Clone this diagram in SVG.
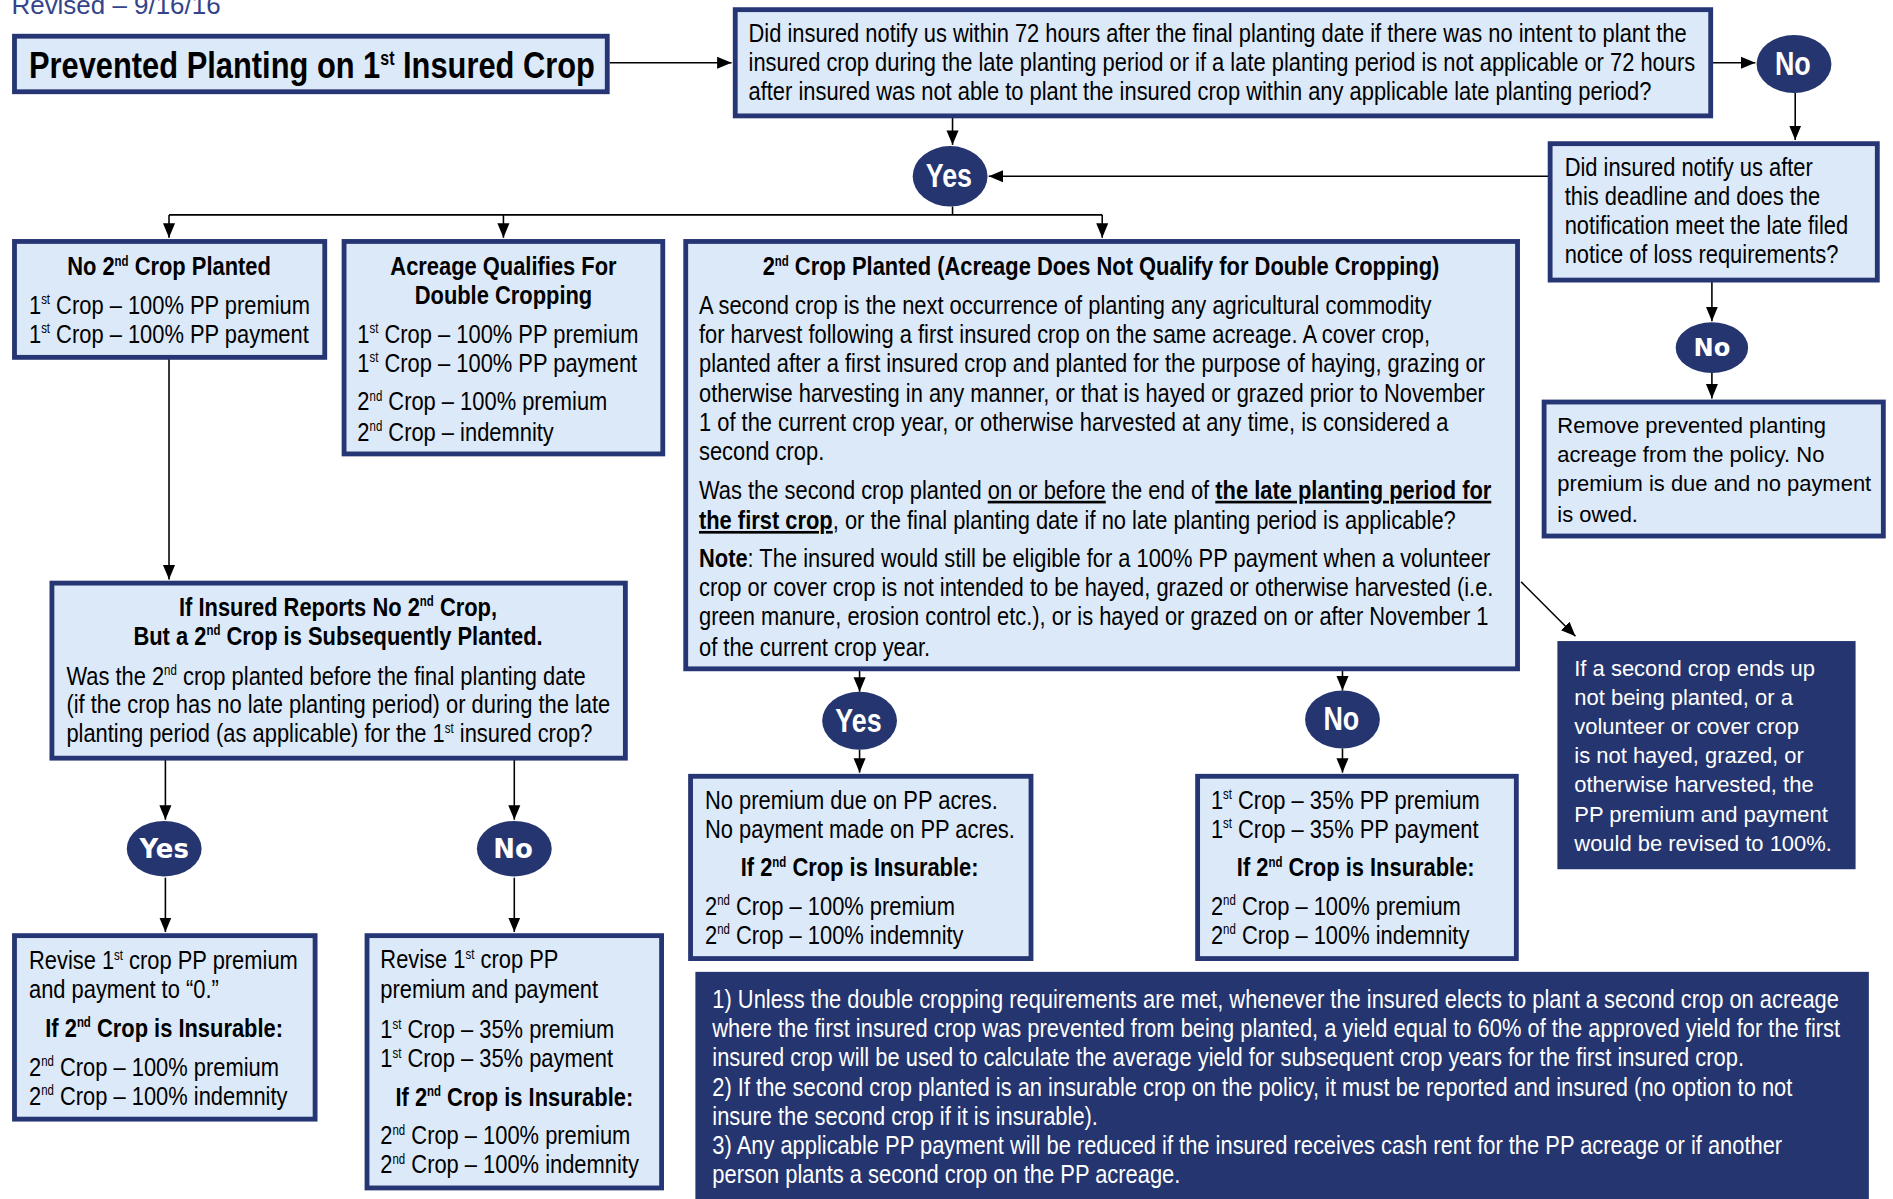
<svg xmlns="http://www.w3.org/2000/svg" width="1893" height="1199" viewBox="0 0 1893 1199">
<style>
.box{fill:#dce9f8;stroke:#263573;stroke-width:4}
.dark{fill:#253570}
.ell{fill:#253570}
.conn{stroke:#000;stroke-width:1.3;fill:none}
.a{marker-end:url(#arr)}
.t{font-family:"Liberation Sans",Arial,sans-serif;font-size:22px;fill:#000}
.b{font-weight:bold}
.c{text-anchor:middle}
.r{font-family:"Liberation Sans",Arial,sans-serif;font-size:18.2px;fill:#000}
.wt{fill:#fff}
.yn{font-family:"Liberation Sans",Arial,sans-serif;font-weight:bold;font-size:27px;fill:#fff;text-anchor:middle}
.yv{font-family:"DejaVu Sans",Verdana,sans-serif;font-weight:bold;font-size:21.5px;fill:#fff;text-anchor:middle}
.u{text-decoration:underline}
.sp{font-size:11.5px}
</style>
<defs>
<marker id="arr" markerUnits="userSpaceOnUse" markerWidth="13" markerHeight="11" refX="12" refY="5.5" orient="auto">
<path d="M0,0.5 L12,5.5 L0,10.5 z" fill="#000"/>
</marker>
</defs>
<g transform="scale(1.20727)">
<text id="revised" x="9.5" y="11.5" class="r" style="font-size:21.5px;fill:#34448a">Revised – 9/16/16</text>

<g id="connectors">
<path class="conn a" d="M505,52 L606,52"/>
<path class="conn a" d="M1418,52 L1454,52"/>
<path class="conn a" d="M1487,77 L1487,116"/>
<path class="conn a" d="M1283,146 L819,146"/>
<path class="conn a" d="M789,97 L789,120"/>
<path class="conn" d="M789,171 L789,178 M140,178 L913,178"/>
<path class="conn a" d="M140,178 L140,197"/>
<path class="conn a" d="M417,178 L417,197"/>
<path class="conn a" d="M913,178 L913,197"/>
<path class="conn a" d="M1418,233 L1418,266"/>
<path class="conn a" d="M1418,309 L1418,330"/>
<path class="conn a" d="M1260,482 L1305,527"/>
<path class="conn a" d="M140,297 L140,480"/>
<path class="conn a" d="M137,629 L137,679"/>
<path class="conn a" d="M137,727 L137,772"/>
<path class="conn a" d="M426,629 L426,679"/>
<path class="conn a" d="M426,727 L426,772"/>
<path class="conn a" d="M712,555 L712,573"/>
<path class="conn a" d="M712,621 L712,640"/>
<path class="conn a" d="M1112,555 L1112,572"/>
<path class="conn a" d="M1112,620 L1112,640"/>
</g>

<g id="title">
<rect class="box" x="12" y="30" width="491" height="46"/>
<g transform="scale(0.8245 1)">
<text class="t b" x="29.1" y="65" style="font-size:31px">Prevented Planting on 1<tspan dy="-11" style="font-size:16px">st</tspan><tspan dy="11"> Insured Crop</tspan></text>
</g>
</g>

<g id="q1">
<rect class="box" x="609" y="8" width="808" height="88"/>
<g transform="scale(0.8245 1)">
<text class="t" x="752" y="35">Did insured notify us within 72 hours after the final planting date if there was no intent to plant the</text>
<text class="t" x="752" y="59">insured crop during the late planting period or if a late planting period is not applicable or 72 hours</text>
<text class="t" x="752" y="83">after insured was not able to plant the insured crop within any applicable late planting period?</text>
</g>
</g>

<g id="no-top">
<ellipse class="ell" cx="1486" cy="53" rx="31" ry="24"/>
<g transform="scale(0.8245 1)"><text class="yn" x="1801.1" y="62">No</text></g>
</g>

<g id="q2">
<rect class="box" x="1284" y="119" width="271" height="113"/>
<g transform="scale(0.8245 1)">
<text class="t" x="1571.9" y="146">Did insured notify us after</text>
<text class="t" x="1571.9" y="170">this deadline and does the</text>
<text class="t" x="1571.9" y="194">notification meet the late filed</text>
<text class="t" x="1571.9" y="218">notice of loss requirements?</text>
</g>
</g>

<g id="yes-top">
<ellipse class="ell" cx="787" cy="146" rx="31" ry="25"/>
<g transform="scale(0.8245 1)"><text class="yn" x="953.3" y="155">Yes</text></g>
</g>

<g id="no-second">
<rect class="box" x="12" y="200" width="257" height="96"/>
<g transform="scale(0.8245 1)">
<text class="t b c" x="169.8" y="228">No 2<tspan dy="-8" class="sp">nd</tspan><tspan dy="8"> Crop Planted</tspan></text>
<text class="t" x="29.1" y="260">1<tspan dy="-8" class="sp">st</tspan><tspan dy="8"> Crop – 100% PP premium</tspan></text>
<text class="t" x="29.1" y="284">1<tspan dy="-8" class="sp">st</tspan><tspan dy="8"> Crop – 100% PP payment</tspan></text>
</g>
</g>

<g id="double">
<rect class="box" x="285" y="200" width="264" height="176"/>
<g transform="scale(0.8245 1)">
<text class="t b c" x="505.8" y="228">Acreage Qualifies For</text>
<text class="t b c" x="505.8" y="252">Double Cropping</text>
<text class="t" x="359" y="284">1<tspan dy="-8" class="sp">st</tspan><tspan dy="8"> Crop – 100% PP premium</tspan></text>
<text class="t" x="359" y="308">1<tspan dy="-8" class="sp">st</tspan><tspan dy="8"> Crop – 100% PP payment</tspan></text>
<text class="t" x="359" y="340">2<tspan dy="-8" class="sp">nd</tspan><tspan dy="8"> Crop – 100% premium</tspan></text>
<text class="t" x="359" y="365">2<tspan dy="-8" class="sp">nd</tspan><tspan dy="8"> Crop – indemnity</tspan></text>
</g>
</g>

<g id="second-planted">
<rect class="box" x="568" y="200" width="689" height="354"/>
<g transform="scale(0.8245 1)">
<text class="t b c" x="1106.1" y="228">2<tspan dy="-8" class="sp">nd</tspan><tspan dy="8"> Crop Planted (Acreage Does Not Qualify for Double Cropping)</tspan></text>
<text class="t" x="702.2" y="260">A second crop is the next occurrence of planting any agricultural commodity</text>
<text class="t" x="702.2" y="284">for harvest following a first insured crop on the same acreage. A cover crop,</text>
<text class="t" x="702.2" y="308">planted after a first insured crop and planted for the purpose of haying, grazing or</text>
<text class="t" x="702.2" y="333">otherwise harvesting in any manner, or that is hayed or grazed prior to November</text>
<text class="t" x="702.2" y="357">1 of the current crop year, or otherwise harvested at any time, is considered a</text>
<text class="t" x="702.2" y="381">second crop.</text>
<text class="t" x="702.2" y="413">Was the second crop planted <tspan class="u">on or before</tspan> the end of <tspan class="b u">the late planting period for </tspan></text>
<text class="t" x="702.2" y="438"><tspan class="b u">the first crop</tspan>, or the final planting date if no late planting period is applicable?</text>
<text class="t" x="702.2" y="470"><tspan class="b">Note</tspan>: The insured would still be eligible for a 100% PP payment when a volunteer</text>
<text class="t" x="702.2" y="494">crop or cover crop is not intended to be hayed, grazed or otherwise harvested (i.e.</text>
<text class="t" x="702.2" y="518">green manure, erosion control etc.), or is hayed or grazed on or after November 1</text>
<text class="t" x="702.2" y="543">of the current crop year.</text>
</g>
</g>

<g id="no-right">
<ellipse class="ell" cx="1418" cy="288" rx="30" ry="21"/>
<text class="yv" x="1418" y="295" style="font-size:20px">No</text>
</g>

<g id="remove">
<rect class="box" x="1279" y="333" width="281" height="111"/>
<text class="r" x="1290" y="359">Remove prevented planting</text>
<text class="r" x="1290" y="383">acreage from the policy. No</text>
<text class="r" x="1290" y="407">premium is due and no payment</text>
<text class="r" x="1290" y="432">is owed.</text>
</g>

<g id="revised-note">
<rect class="dark" x="1290" y="531" width="247" height="189"/>
<text class="r wt" x="1304" y="560">If a second crop ends up</text>
<text class="r wt" x="1304" y="584">not being planted, or a</text>
<text class="r wt" x="1304" y="608">volunteer or cover crop</text>
<text class="r wt" x="1304" y="632">is not hayed, grazed, or</text>
<text class="r wt" x="1304" y="656">otherwise harvested, the</text>
<text class="r wt" x="1304" y="681">PP premium and payment</text>
<text class="r wt" x="1304" y="705">would be revised to 100%.</text>
</g>

<g id="reports-no">
<rect class="box" x="43" y="483" width="475" height="145"/>
<g transform="scale(0.8245 1)">
<text class="t b c" x="339.6" y="510">If Insured Reports No 2<tspan dy="-8" class="sp">nd</tspan><tspan dy="8"> Crop,</tspan></text>
<text class="t b c" x="339.6" y="534">But a 2<tspan dy="-8" class="sp">nd</tspan><tspan dy="8"> Crop is Subsequently Planted.</tspan></text>
<text class="t" x="66.7" y="567">Was the 2<tspan dy="-8" class="sp">nd</tspan><tspan dy="8"> crop planted before the final planting date</tspan></text>
<text class="t" x="66.7" y="591">(if the crop has no late planting period) or during the late</text>
<text class="t" x="66.7" y="615">planting period (as applicable) for the 1<tspan dy="-8" class="sp">st</tspan><tspan dy="8"> insured crop?</tspan></text>
</g>
</g>

<g id="yes-left">
<ellipse class="ell" cx="136" cy="703" rx="31" ry="23"/>
<text class="yv" x="136" y="711">Yes</text>
</g>
<g id="no-left">
<ellipse class="ell" cx="426" cy="703" rx="31" ry="23"/>
<text class="yv" x="425" y="711">No</text>
</g>

<g id="revise-zero">
<rect class="box" x="12" y="775" width="249" height="152"/>
<g transform="scale(0.8245 1)">
<text class="t" x="29.1" y="803">Revise 1<tspan dy="-8" class="sp">st</tspan><tspan dy="8"> crop PP premium</tspan></text>
<text class="t" x="29.1" y="827">and payment to “0.”</text>
<text class="t b c" x="164.9" y="859">If 2<tspan dy="-8" class="sp">nd</tspan><tspan dy="8"> Crop is Insurable:</tspan></text>
<text class="t" x="29.1" y="891">2<tspan dy="-8" class="sp">nd</tspan><tspan dy="8"> Crop – 100% premium</tspan></text>
<text class="t" x="29.1" y="915">2<tspan dy="-8" class="sp">nd</tspan><tspan dy="8"> Crop – 100% indemnity</tspan></text>
</g>
</g>

<g id="revise-35">
<rect class="box" x="304" y="775" width="244" height="209"/>
<g transform="scale(0.8245 1)">
<text class="t" x="382.1" y="802">Revise 1<tspan dy="-8" class="sp">st</tspan><tspan dy="8"> crop PP</tspan></text>
<text class="t" x="382.1" y="827">premium and payment</text>
<text class="t" x="382.1" y="860">1<tspan dy="-8" class="sp">st</tspan><tspan dy="8"> Crop – 35% premium</tspan></text>
<text class="t" x="382.1" y="884">1<tspan dy="-8" class="sp">st</tspan><tspan dy="8"> Crop – 35% payment</tspan></text>
<text class="t b c" x="516.7" y="916">If 2<tspan dy="-8" class="sp">nd</tspan><tspan dy="8"> Crop is Insurable:</tspan></text>
<text class="t" x="382.1" y="948">2<tspan dy="-8" class="sp">nd</tspan><tspan dy="8"> Crop – 100% premium</tspan></text>
<text class="t" x="382.1" y="972">2<tspan dy="-8" class="sp">nd</tspan><tspan dy="8"> Crop – 100% indemnity</tspan></text>
</g>
</g>

<g id="yes-mid">
<ellipse class="ell" cx="712" cy="597" rx="31" ry="24"/>
<g transform="scale(0.8245 1)"><text class="yn" x="862.4" y="606">Yes</text></g>
</g>
<g id="no-mid">
<ellipse class="ell" cx="1112" cy="596" rx="31" ry="24"/>
<g transform="scale(0.8245 1)"><text class="yn" x="1347.5" y="605">No</text></g>
</g>

<g id="no-premium">
<rect class="box" x="572" y="643" width="282" height="151"/>
<g transform="scale(0.8245 1)">
<text class="t" x="708.3" y="670">No premium due on PP acres.</text>
<text class="t" x="708.3" y="694">No payment made on PP acres.</text>
<text class="t b c" x="863.6" y="726">If 2<tspan dy="-8" class="sp">nd</tspan><tspan dy="8"> Crop is Insurable:</tspan></text>
<text class="t" x="708.3" y="758">2<tspan dy="-8" class="sp">nd</tspan><tspan dy="8"> Crop – 100% premium</tspan></text>
<text class="t" x="708.3" y="782">2<tspan dy="-8" class="sp">nd</tspan><tspan dy="8"> Crop – 100% indemnity</tspan></text>
</g>
</g>

<g id="pp35">
<rect class="box" x="992" y="643" width="264" height="151"/>
<g transform="scale(0.8245 1)">
<text class="t" x="1216.5" y="670">1<tspan dy="-8" class="sp">st</tspan><tspan dy="8"> Crop – 35% PP premium</tspan></text>
<text class="t" x="1216.5" y="694">1<tspan dy="-8" class="sp">st</tspan><tspan dy="8"> Crop – 35% PP payment</tspan></text>
<text class="t b c" x="1362" y="726">If 2<tspan dy="-8" class="sp">nd</tspan><tspan dy="8"> Crop is Insurable:</tspan></text>
<text class="t" x="1216.5" y="758">2<tspan dy="-8" class="sp">nd</tspan><tspan dy="8"> Crop – 100% premium</tspan></text>
<text class="t" x="1216.5" y="782">2<tspan dy="-8" class="sp">nd</tspan><tspan dy="8"> Crop – 100% indemnity</tspan></text>
</g>
</g>

<g id="footnotes">
<rect class="dark" x="576" y="805" width="972" height="190"/>
<g transform="scale(0.8245 1)">
<text class="t wt" x="715.6" y="835">1) Unless the double cropping requirements are met, whenever the insured elects to plant a second crop on acreage</text>
<text class="t wt" x="715.6" y="859">where the first insured crop was prevented from being planted, a yield equal to 60% of the approved yield for the first</text>
<text class="t wt" x="715.6" y="883">insured crop will be used to calculate the average yield for subsequent crop years for the first insured crop.</text>
<text class="t wt" x="715.6" y="908">2) If the second crop planted is an insurable crop on the policy, it must be reported and insured (no option to not</text>
<text class="t wt" x="715.6" y="932">insure the second crop if it is insurable).</text>
<text class="t wt" x="715.6" y="956">3) Any applicable PP payment will be reduced if the insured receives cash rent for the PP acreage or if another</text>
<text class="t wt" x="715.6" y="980">person plants a second crop on the PP acreage.</text>
</g>
</g>
</g>
</svg>
